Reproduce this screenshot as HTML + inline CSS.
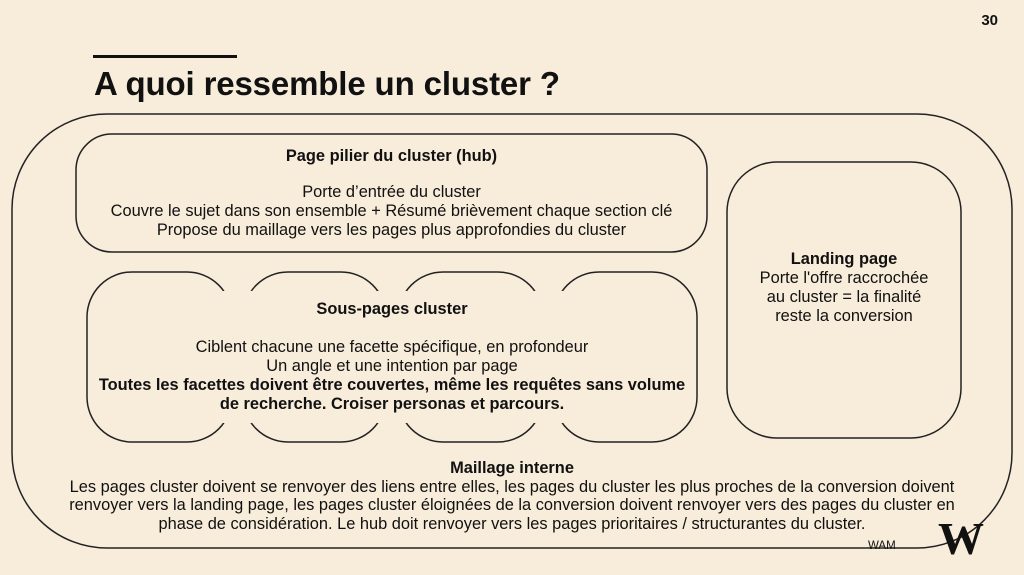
<!DOCTYPE html>
<html><head><meta charset="utf-8"><style>
body{margin:0;width:1024px;height:575px;background:#f8ecda;position:relative;overflow:hidden;font-family:"Liberation Sans",sans-serif;color:#111}
.t{position:absolute;text-align:center;font-size:16.4px;line-height:19px;white-space:nowrap}
</style></head><body>
<svg width="1024" height="575" style="position:absolute;left:0;top:0">
<rect x="93" y="55" width="144" height="3" fill="#111"/>
<rect x="12" y="114" width="1000" height="434" rx="95" fill="none" stroke="#222" stroke-width="1.5"/>
<rect x="76" y="134" width="631" height="118" rx="36" fill="none" stroke="#222" stroke-width="1.5"/>
<rect x="727" y="162" width="234" height="276" rx="50" fill="none" stroke="#222" stroke-width="1.5"/>
<g fill="none" stroke="#222" stroke-width="1.5">
<rect x="87" y="272" width="145" height="170" rx="45"/>
<rect x="243" y="272" width="143" height="170" rx="45"/>
<rect x="398" y="272" width="145" height="170" rx="45"/>
<rect x="554" y="272" width="143" height="170" rx="45"/>
</g>
<rect x="100" y="291" width="585" height="132" fill="#f8ecda"/>
<text x="998" y="25" font-family="Liberation Sans" font-weight="bold" font-size="15" text-anchor="end" fill="#111">30</text>
<text x="94" y="95" font-family="Liberation Sans" font-weight="bold" font-size="33" textLength="466" fill="#111">A quoi ressemble un cluster ?</text>
<text x="938" y="554" font-family="Liberation Serif" font-weight="bold" font-size="46" fill="#111">W</text>
</svg>
<div class="t" style="left:76px;width:631px;top:147px"><div style="font-weight:bold">Page pilier du cluster (hub)</div><div style="height:17px"></div>Porte d’entrée du cluster<br>Couvre le sujet dans son ensemble + Résumé brièvement chaque section clé<br>Propose du maillage vers les pages plus approfondies du cluster</div>
<div class="t" style="left:727px;width:234px;top:250px"><b>Landing page</b><br>Porte l'offre raccrochée<br>au cluster = la finalité<br>reste la conversion</div>
<div class="t" style="left:87px;width:610px;top:300px"><b>Sous-pages cluster</b><div style="height:19px"></div>Ciblent chacune une facette spécifique, en profondeur<br>Un angle et une intention par page<br><b>Toutes les facettes doivent être couvertes, même les requêtes sans volume<br>de recherche. Croiser personas et parcours.</b></div>
<div class="t" style="left:20px;width:984px;top:459px;line-height:18.5px"><b>Maillage interne</b><br>Les pages cluster doivent se renvoyer des liens entre elles, les pages du cluster les plus proches de la conversion doivent<br>renvoyer vers la landing page, les pages cluster éloignées de la conversion doivent renvoyer vers des pages du cluster en<br>phase de considération. Le hub doit renvoyer vers les pages prioritaires / structurantes du cluster.</div>
<div class="t" style="left:868px;top:537px;font-size:11.5px">WAM</div>
</body></html>
